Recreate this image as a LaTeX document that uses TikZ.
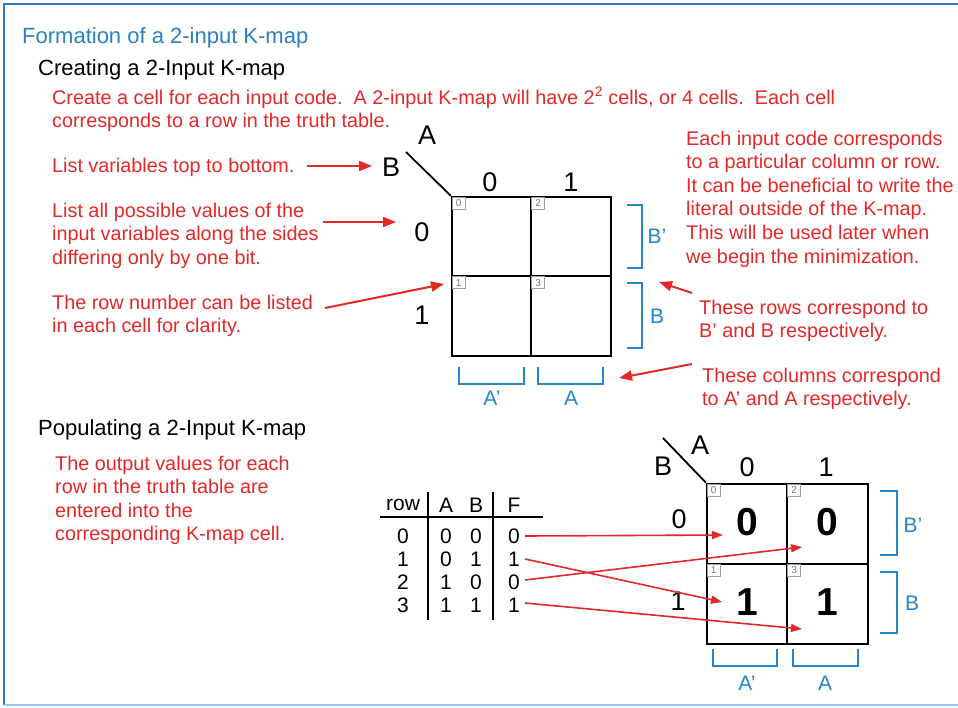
\documentclass[tikz,border=0pt]{standalone}
\usepackage{fontspec}
\setmainfont{Liberation Sans}
\usetikzlibrary{arrows.meta}
\definecolor{kred}{RGB}{228,40,40}
\definecolor{kblue}{RGB}{38,132,200}
\definecolor{ttlblue}{RGB}{44,128,192}
\definecolor{frameblue}{RGB}{50,120,200}
\definecolor{framelight}{RGB}{150,200,240}
\definecolor{numgray}{RGB}{120,120,120}
\begin{document}
\begin{tikzpicture}[x=1pt,y=-1pt,
  redtxt/.style={text=kred,font=\fontsize{19.8}{23.6}\selectfont,align=left,anchor=base west,inner sep=0pt},
  headtxt/.style={font=\fontsize{22}{26}\selectfont,anchor=base west,inner sep=0pt},
  klabel/.style={font=\fontsize{27}{30}\selectfont,inner sep=0pt},
  blabel/.style={text=kblue,font=\fontsize{21}{24}\selectfont,inner sep=0pt},
  ttxt/.style={font=\fontsize{21}{24}\selectfont,inner sep=0pt},
  kcell/.style={draw,line width=2pt,minimum width=79.5pt,minimum height=79.5pt,inner sep=0pt},
  kcellb/.style={draw,line width=2pt,minimum width=80.5pt,minimum height=80pt,inner sep=0pt},
  numbox/.style={draw=numgray!70,line width=0.8pt,text=numgray,font=\fontsize{10}{11}\selectfont,minimum width=13pt,minimum height=12pt,inner sep=0pt,anchor=north west},
  bigval/.style={font=\fontsize{39}{40}\selectfont\bfseries,inner sep=0pt},
  bracket/.style={draw=kblue,line width=2.5pt},
  redarrow/.style={draw=kred,line width=2pt,-{Triangle[length=13pt,width=10pt]}},
  thinarrow/.style={draw=kred,line width=1.6pt,-{Triangle[length=11pt,width=8pt]}},
  tline/.style={line width=2pt}
]
\useasboundingbox (0,0) rectangle (958,707);
% frame
\draw[frameblue,line width=2.5pt] (962,4) -- (4,4) -- (4,705);
\draw[framelight,line width=2pt] (4,705) -- (962,705);

% headings
\node[headtxt,text=ttlblue] (title) at (22,43) {Formation of a 2-input K-map};
\node[headtxt] (sub1) at (38,75) {Creating a 2-Input K-map};
\node[headtxt] (sub2) at (38,435) {Populating a 2-Input K-map};

% red explanations (anchored at the baseline of their last line)
\node[redtxt] (t1) at (52,127.6) {Create a cell for each input code.\ \ A 2-input K-map will have 2\textsuperscript{2} cells, or 4 cells.\ \ Each cell\\corresponds to a row in the truth table.};
\node[redtxt] (t2) at (52,172) {List variables top to bottom.};
\node[redtxt] (t3) at (52,264.2) {List all possible values of the\\input variables along the sides\\differing only by one bit.};
\node[redtxt] (t4) at (52,332.6) {The row number can be listed\\in each cell for clarity.};
\node[redtxt] (t5) at (686,263) {Each input code corresponds\\to a particular column or row.\\It can be beneficial to write the\\literal outside of the K-map.\\This will be used later when\\we begin the minimization.};
\node[redtxt] (t6) at (699,337.6) {These rows correspond to\\B' and B respectively.};
\node[redtxt] (t7) at (702,405.6) {These columns correspond\\to A' and A respectively.};
\node[redtxt] (t8) at (55,540.8) {The output values for each\\row in the truth table are\\entered into the\\corresponding K-map cell.};

% K-map 1
\node[kcell] (k0) at (491.5,236.5) {};
\node[kcell] (k2) at (571,236.5) {};
\node[kcell] (k1) at (491.5,316) {};
\node[kcell] (k3) at (571,316) {};
\node[numbox] (n0) at ([xshift=1pt,yshift=-1pt]k0.north west) {0};
\node[numbox] (n2) at ([xshift=1pt,yshift=-1pt]k2.north west) {2};
\node[numbox] (n1) at ([xshift=1pt,yshift=-1pt]k1.north west) {1};
\node[numbox] (n3) at ([xshift=1pt,yshift=-1pt]k3.north west) {3};
\coordinate (d1) at (406,152);
\draw[line width=1.8pt] (d1) -- (k0.north west);
\node[klabel] (a1) at (427,135) {A};
\node[klabel] (b1) at (391,167) {B};
\node[klabel] (c10) at (490,182) {0};
\node[klabel] (c11) at (571,182) {1};
\node[klabel] (r10) at (422,232) {0};
\node[klabel] (r11) at (422,315) {1};
% brackets K-map 1
\draw[bracket] (627,205) -- (642,205) -- (642,268) -- (627,268);
\draw[bracket] (627,283) -- (642,283) -- (642,348) -- (627,348);
\draw[bracket] (459,367) -- (459,384) -- (524,384) -- (524,367);
\draw[bracket] (538,367) -- (538,384) -- (603,384) -- (603,367);
\node[blabel] (bp1) at (657,236) {B'};
\node[blabel] (bb1) at (657,316) {B};
\node[blabel] (ap1) at (492,398) {A'};
\node[blabel] (aa1) at (571,398) {A};

% arrows top section
\coordinate (s2) at (307,166); \coordinate (e2) at (372,166);
\coordinate (s3) at (323,222); \coordinate (e3) at (396,222);
\coordinate (s4) at (325,308); \coordinate (e4) at (444,284);
\coordinate (s6) at (692,293); \coordinate (e6) at (659,282);
\coordinate (s7) at (692,364); \coordinate (e7) at (619,378);
\draw[redarrow] (s2) -- (e2);
\draw[redarrow] (s3) -- (e3);
\draw[redarrow] (s4) -- (e4);
\draw[redarrow] (s6) -- (e6);
\draw[redarrow] (s7) -- (e7);

% truth table
\node[ttxt] (hrow) at (403,505) {row};
\node[ttxt] (hA) at (446,505) {A};
\node[ttxt] (hB) at (476,505) {B};
\node[ttxt] (hF) at (514,505) {F};
\coordinate (hl1) at (380,517); \coordinate (hl2) at (543,517);
\coordinate (v1t) at (428,492); \coordinate (v1b) at (428,620);
\coordinate (v2t) at (493,492); \coordinate (v2b) at (493,620);
\draw[tline] (hl1) -- (hl2);
\draw[tline] (v1t) -- (v1b);
\draw[tline] (v2t) -- (v2b);
\foreach \r/\a/\b/\f/\y in {0/0/0/0/536,1/0/1/1/559,2/1/0/0/582,3/1/1/1/605}{
  \node[ttxt] (tr\r) at (403,\y) {\r};
  \node[ttxt] (ta\r) at (446,\y) {\a};
  \node[ttxt] (tb\r) at (476,\y) {\b};
  \node[ttxt] (tf\r) at (514,\y) {\f};
}

% K-map 2
\node[kcellb] (m0) at (747,523.5) {};
\node[kcellb] (m2) at (827.5,523.5) {};
\node[kcellb] (m1) at (747,603.5) {};
\node[kcellb] (m3) at (827.5,603.5) {};
\node[numbox] (p0) at ([xshift=1pt,yshift=-1pt]m0.north west) {0};
\node[numbox] (p2) at ([xshift=1pt,yshift=-1pt]m2.north west) {2};
\node[numbox] (p1) at ([xshift=1pt,yshift=-1pt]m1.north west) {1};
\node[numbox] (p3) at ([xshift=1pt,yshift=-1pt]m3.north west) {3};
\node[bigval] (v0) at (747,522) {0};
\node[bigval] (v2) at (827.5,522) {0};
\node[bigval] (v1) at (747,602) {1};
\node[bigval] (v3) at (827.5,602) {1};
\coordinate (d2) at (663,438);
\draw[line width=1.8pt] (d2) -- (m0.north west);
\node[klabel] (a2) at (700,445) {A};
\node[klabel] (b2) at (663,466) {B};
\node[klabel] (c20) at (747,467) {0};
\node[klabel] (c21) at (826,467) {1};
\node[klabel] (r20) at (679,519) {0};
\node[klabel] (r21) at (678,601) {1};
\draw[bracket] (880,491) -- (897,491) -- (897,555) -- (880,555);
\draw[bracket] (880,572) -- (897,572) -- (897,633) -- (880,633);
\draw[bracket] (713,649) -- (713,666) -- (777,666) -- (777,649);
\draw[bracket] (793,649) -- (793,666) -- (858,666) -- (858,649);
\node[blabel] (bp2) at (913,525) {B'};
\node[blabel] (bb2) at (912,603) {B};
\node[blabel] (ap2) at (747,683) {A'};
\node[blabel] (aa2) at (825,683) {A};

% arrows from truth table to cells
\coordinate (f0) at (525,536); \coordinate (g0) at (723,535);
\coordinate (f1) at (525,559); \coordinate (g1) at (722,602);
\coordinate (f2) at (525,580); \coordinate (g2) at (802,547);
\coordinate (f3) at (525,603); \coordinate (g3) at (802,629);
\draw[thinarrow] (f0) -- (g0);
\draw[thinarrow] (f1) -- (g1);
\draw[thinarrow] (f2) -- (g2);
\draw[thinarrow] (f3) -- (g3);
\end{tikzpicture}
\end{document}
